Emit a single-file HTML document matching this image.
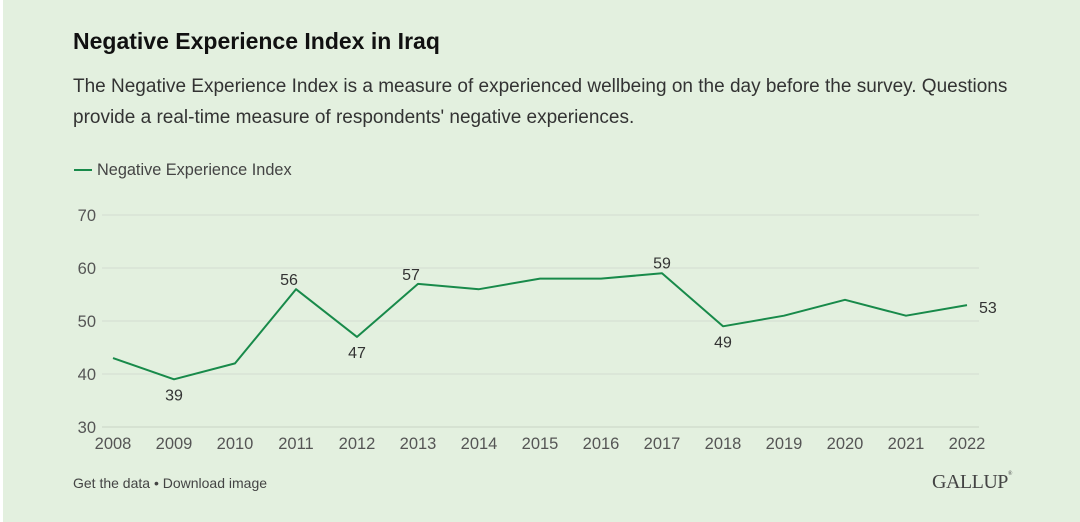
<!DOCTYPE html>
<html><head><meta charset="utf-8"><style>
body{margin:0;background:#fff;}
#wrap{position:absolute;left:3px;top:0;width:1077px;height:522px;background:#e3f0df;font-family:"Liberation Sans",sans-serif;}
h1{position:absolute;left:70px;top:28px;margin:0;font-size:23px;font-weight:bold;color:#111;}
p.sub{position:absolute;left:70px;top:71px;margin:0;font-size:19px;line-height:31px;color:#333;width:950px;}
.foot{position:absolute;left:70px;top:475px;font-size:14px;color:#444;}
.gallup{position:absolute;left:929px;top:471px;font-family:"Liberation Serif",serif;font-size:20px;color:#444;letter-spacing:-0.5px;}
svg{position:absolute;left:-3px;top:0;}
</style></head><body>
<div id="wrap">
<h1>Negative Experience Index in Iraq</h1>
<p class="sub">The Negative Experience Index is a measure of experienced wellbeing on the day before the survey. Questions provide a real-time measure of respondents' negative experiences.</p>
<svg id="chart" width="1080" height="522"></svg>
<div class="foot">Get the data • Download image</div>
<div class="gallup">GALLUP<span style="font-size:6px;vertical-align:top">®</span></div>
</div>
<script>
const years=[2008,2009,2010,2011,2012,2013,2014,2015,2016,2017,2018,2019,2020,2021,2022];
const values=[43,39,42,56,47,57,56,58,58,59,49,51,54,51,53];
const yTicks=[30,40,50,60,70];
const labeled={2009:'below',2011:'aboveleft',2012:'below',2013:'aboveleft',2017:'above',2018:'below',2022:'right'};
const NS='http://www.w3.org/2000/svg';
const svg=document.getElementById('chart');
const x=i=>113+i*61;
const y=v=>427-(v-30)*5.3;
function mk(t,a,txt){const e=document.createElementNS(NS,t);for(const k in a)e.setAttribute(k,a[k]);if(txt!=null)e.textContent=txt;svg.appendChild(e);return e;}
yTicks.forEach(t=>{
 const l=mk('line',{x1:102,x2:979,y1:y(t),y2:y(t),stroke:t===30?'#c9d3c6':'#d3ddd0','stroke-width':1});
 
 
 const tx=mk('text',{x:96,y:y(t)+6,'text-anchor':'end','font-size':16.5,fill:'#555','font-family':'Liberation Sans'},t);
 
 
});
years.forEach((yr,i)=>{
 const tx=mk('text',{x:x(i),y:449,'text-anchor':'middle','font-size':16.5,fill:'#555','font-family':'Liberation Sans'},yr);
 
 
});
const path=mk('path',{d:values.map((v,i)=>(i?'L':'M')+x(i)+' '+y(v)).join(''),fill:'none',stroke:'#188a4a','stroke-width':2,'stroke-linejoin':'round'});


values.forEach((v,i)=>{
 const pos=labeled[years[i]];if(!pos)return;
 let lx=x(i),ly=y(v),anc='middle';
 if(pos==='above')ly-=5;
 else if(pos==='aboveleft'){ly-=4;lx-=7;}
 else if(pos==='below')ly+=21;
 else{lx+=12;ly+=8;anc='start';}
 const tx=mk('text',{x:lx,y:ly,'text-anchor':anc,'font-size':16,fill:'#333','font-family':'Liberation Sans'},v);
 
 
});
const ll=mk('line',{x1:74,x2:92,y1:170,y2:170,stroke:'#188a4a','stroke-width':2});


const lt=mk('text',{x:97,y:175,'font-size':16.3,fill:'#444','font-family':'Liberation Sans'},'Negative Experience Index');


</script>
</body></html>
